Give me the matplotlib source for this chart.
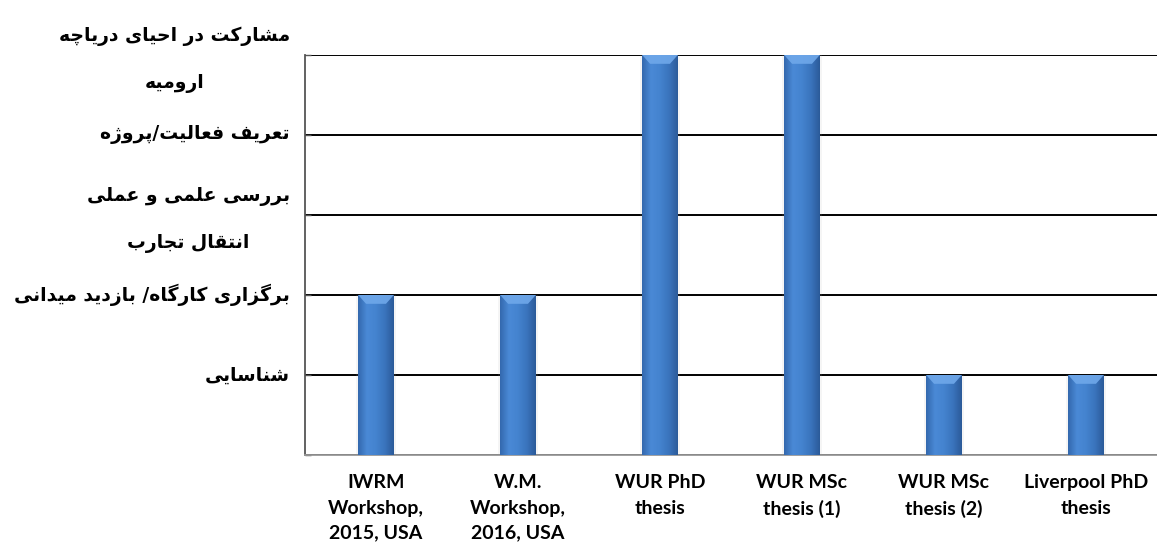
import numpy as np
import matplotlib
matplotlib.use("Agg")
import matplotlib.pyplot as plt
from matplotlib.colors import LinearSegmentedColormap
from matplotlib.patches import Polygon

# Activities (x) and the stage each one reached (y level)
categories = [
    "IWRM\nWorkshop,\n2015, USA",
    "W.M.\nWorkshop,\n2016, USA",
    "WUR PhD\nthesis",
    "WUR MSc\nthesis (1)",
    "WUR MSc\nthesis (2)",
    "Liverpool PhD\nthesis",
]
levels = [2, 2, 5, 5, 1, 1]
level_labels = [
    "",
    "شناسایی",
    "برگزاری کارگاه/ بازدید میدانی",
    "بررسی علمی و عملی\nانتقال تجارب",
    "تعریف فعالیت/پروژه",
    "مشارکت در احیای دریاچه\nارومیه",
]

# Minimal Persian shaping: contextual presentation forms + RTL order.
# 4-tuple = (isolated, final, initial, medial); 2-tuple = letter never joins left.
FORMS = {
    "\u0627": (0xFE8D, 0xFE8E), "\u0622": (0xFE81, 0xFE82),
    "\u0628": (0xFE8F, 0xFE90, 0xFE91, 0xFE92), "\u067E": (0xFB56, 0xFB57, 0xFB58, 0xFB59),
    "\u062A": (0xFE95, 0xFE96, 0xFE97, 0xFE98), "\u062B": (0xFE99, 0xFE9A, 0xFE9B, 0xFE9C),
    "\u062C": (0xFE9D, 0xFE9E, 0xFE9F, 0xFEA0), "\u0686": (0xFB7A, 0xFB7B, 0xFB7C, 0xFB7D),
    "\u062D": (0xFEA1, 0xFEA2, 0xFEA3, 0xFEA4), "\u062E": (0xFEA5, 0xFEA6, 0xFEA7, 0xFEA8),
    "\u062F": (0xFEA9, 0xFEAA), "\u0630": (0xFEAB, 0xFEAC),
    "\u0631": (0xFEAD, 0xFEAE), "\u0632": (0xFEAF, 0xFEB0), "\u0698": (0xFB8A, 0xFB8B),
    "\u0633": (0xFEB1, 0xFEB2, 0xFEB3, 0xFEB4), "\u0634": (0xFEB5, 0xFEB6, 0xFEB7, 0xFEB8),
    "\u0635": (0xFEB9, 0xFEBA, 0xFEBB, 0xFEBC), "\u0636": (0xFEBD, 0xFEBE, 0xFEBF, 0xFEC0),
    "\u0637": (0xFEC1, 0xFEC2, 0xFEC3, 0xFEC4), "\u0638": (0xFEC5, 0xFEC6, 0xFEC7, 0xFEC8),
    "\u0639": (0xFEC9, 0xFECA, 0xFECB, 0xFECC), "\u063A": (0xFECD, 0xFECE, 0xFECF, 0xFED0),
    "\u0641": (0xFED1, 0xFED2, 0xFED3, 0xFED4), "\u0642": (0xFED5, 0xFED6, 0xFED7, 0xFED8),
    "\u06A9": (0xFB8E, 0xFB8F, 0xFB90, 0xFB91), "\u06AF": (0xFB92, 0xFB93, 0xFB94, 0xFB95),
    "\u0644": (0xFEDD, 0xFEDE, 0xFEDF, 0xFEE0), "\u0645": (0xFEE1, 0xFEE2, 0xFEE3, 0xFEE4),
    "\u0646": (0xFEE5, 0xFEE6, 0xFEE7, 0xFEE8), "\u0648": (0xFEED, 0xFEEE),
    "\u0647": (0xFEE9, 0xFEEA, 0xFEEB, 0xFEEC), "\u06CC": (0xFBFC, 0xFBFD, 0xFBFE, 0xFBFF),
    "\u0626": (0xFE89, 0xFE8A, 0xFE8B, 0xFE8C),
}


def shape_line(text):
    out = []
    for i, ch in enumerate(text):
        forms = FORMS.get(ch)
        if forms is None:
            out.append(ch)
            continue
        prev = text[i - 1] if i > 0 else None
        nxt = text[i + 1] if i + 1 < len(text) else None
        join_prev = prev in FORMS and len(FORMS[prev]) == 4
        join_next = len(forms) == 4 and nxt in FORMS
        if join_prev and join_next:
            cp = forms[3]
        elif join_prev:
            cp = forms[1]
        elif join_next:
            cp = forms[2]
        else:
            cp = forms[0]
        out.append(chr(cp))
    return "".join(reversed(out))


def shape(text):
    return "\n".join(shape_line(line) for line in text.split("\n"))


fig = plt.figure(figsize=(11.57, 5.5), dpi=100)
ax = fig.add_axes([305 / 1157, 95 / 550, 852 / 1157, 400 / 550])

x = np.arange(len(categories))
bar_w = 0.25

# soft shadow behind the bars
ax.bar(x, levels, width=bar_w + 0.03, color="#b0b0b0", alpha=0.12, zorder=2, linewidth=0)
bars = ax.bar(x, levels, width=bar_w, color="#3b76c2", zorder=3, linewidth=0)

# cylinder-like shading across each bar
cyl = LinearSegmentedColormap.from_list(
    "cyl", ["#3368ad", "#4a89d6", "#4483cf", "#3a74bd", "#2b5a99"]
)
grad = np.linspace(0, 1, 256).reshape(1, -1)
for rect, h in zip(bars, levels):
    x0 = rect.get_x()
    im = ax.imshow(grad, cmap=cyl, aspect="auto", extent=(x0, x0 + bar_w, 0, h), zorder=3.1)
    im.set_clip_path(rect)
    # light bevel at the bar top
    inset = bar_w * 0.22
    cap = 0.11
    ax.add_patch(Polygon(
        [(x0, h), (x0 + bar_w, h), (x0 + bar_w - inset, h - cap), (x0 + inset, h - cap)],
        closed=True, facecolor="#6fa8ea", edgecolor="none", alpha=0.9, zorder=3.2,
    ))

ax.set_xlim(-0.5, len(categories) - 0.5)
ax.set_ylim(0, 5)

# y labels as annotations so the two-line ones can be nudged
ax.set_yticks(range(len(level_labels)))
ax.set_yticklabels([])
ax.tick_params(axis="y", direction="in", length=4, width=1, color="#555555")
for lvl, label in enumerate(level_labels):
    if not label:
        continue
    n_lines = label.count("\n") + 1
    ax.annotate(shape(label), xy=(0, lvl), xycoords=ax.get_yaxis_transform(),
                xytext=(-11, -3.5 * (n_lines - 1)), textcoords="offset points",
                ha="right", va="center", multialignment="center", linespacing=2.8,
                fontfamily="DejaVu Sans", fontweight="bold", fontsize=13.5,
                annotation_clip=False)

ax.set_xticks(x)
ax.set_xticklabels(categories, fontfamily="Lato", fontweight="bold", fontsize=14, linespacing=1.58,
                   va="top")
ax.tick_params(axis="x", length=0, pad=14)

ax.yaxis.grid(True, color="black", linewidth=1.4, zorder=1)
ax.set_axisbelow(True)
for side in ("top", "right"):
    ax.spines[side].set_visible(False)
ax.spines["left"].set_color("#555555")
ax.spines["left"].set_linewidth(1.3)
ax.spines["bottom"].set_color("#999999")
ax.spines["bottom"].set_linewidth(1.3)

fig.savefig("out.png", dpi=100)
